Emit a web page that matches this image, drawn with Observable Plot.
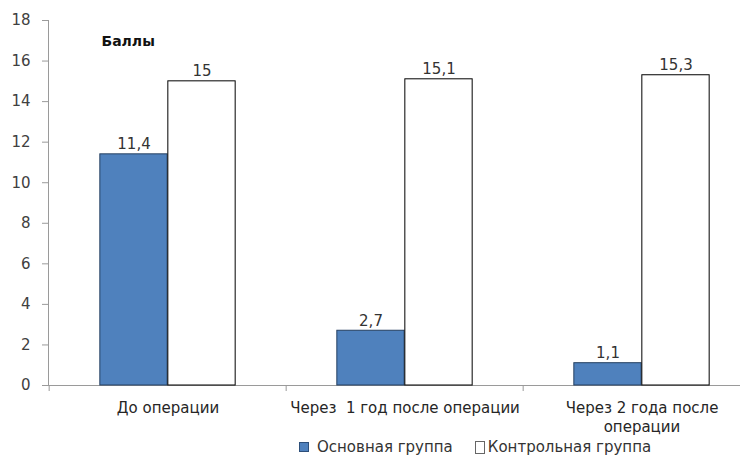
<!DOCTYPE html>
<html>
<head>
<meta charset="utf-8">
<script src="https://cdn.jsdelivr.net/npm/d3@7"></script>
<script src="https://cdn.jsdelivr.net/npm/@observablehq/plot@0.6"></script>
<style>
  body { margin: 0; background: #fff; font-family: "DejaVu Sans", sans-serif; }
  #legend { display: flex; align-items: center; height: 20px; margin-left: 299px; font-size: 15px; color: #333; }
  #legend .sw { display: inline-block; width: 10px; height: 10px; box-sizing: border-box; }
  #legend .main { background: #4f81bd; border: 1px solid #2d4f7a; margin-right: 8px; }
  #legend .control { background: #fff; border: 1px solid #666; height: 13px; margin-left: 22px; margin-right: 3px; }
</style>
</head>
<body>
<div id="chart"></div>
<script>
// Scores before and after surgery, by group
const categories = ["До операции", "Через  1 год после операции", "Через 2 года после\nоперации"];
const groups = ["Основная группа", "Контрольная группа"];
const mainValues = [11.4, 2.7, 1.1];
const controlValues = [15, 15.1, 15.3];
const yTicks = [0, 2, 4, 6, 8, 10, 12, 14, 16, 18];
const yTitle = "Баллы";

const mainRows = categories.map((c, i) => ({category: c, group: groups[0], value: mainValues[i]}));
const controlRows = categories.map((c, i) => ({category: c, group: groups[1], value: controlValues[i]}));

// Layout: each category band holds two adjacent bars centred in it
const xRange = [48, 761];
const band = (xRange[1] - xRange[0]) / categories.length;
const barWidth = 68;
const outer = band / 2 - barWidth;
const fmt = (v) => String(v).replace(".", ",");

const chart = Plot.plot({
  width: 749,
  height: 437,
  marginTop: 20,
  marginBottom: 52,
  marginLeft: 48,
  marginRight: 9,
  style: {fontFamily: "DejaVu Sans, sans-serif", background: "#fff"},
  x: {domain: categories, range: xRange, padding: 0},
  y: {domain: [0, 18], ticks: yTicks},
  marks: [
    Plot.frame({anchor: "left", stroke: "#9a9a9a"}),
    Plot.ruleY([0], {stroke: "#9a9a9a"}),
    Plot.ruleX(categories, {x: (d) => d, y1: 0, y2: 0, insetBottom: -6, dx: -band / 2, stroke: "#9a9a9a"}),
    Plot.ruleX(categories.slice(-1), {x: (d) => d, y1: 0, y2: 0, insetBottom: -6, dx: band / 2, stroke: "#9a9a9a"}),
    Plot.axisY({ticks: yTicks, tickSize: 6, tickPadding: 12, stroke: "#9a9a9a", fill: "#404040", fontSize: 15, label: null}),
    Plot.axisX({tickSize: 0, tickPadding: 14, fill: "#262626", fontSize: 15, lineHeight: 1.25, label: null}),
    Plot.barY(mainRows, {x: "category", y: "value", fill: "#4f81bd", stroke: "#243f60", strokeWidth: 1,
      insetLeft: outer, insetRight: band / 2}),
    Plot.barY(controlRows, {x: "category", y: "value", fill: "#fff", stroke: "#000", strokeWidth: 1,
      insetLeft: band / 2, insetRight: outer}),
    Plot.text(mainRows, {x: "category", y: "value", text: (d) => fmt(d.value), dx: -barWidth / 2, dy: -5,
      lineAnchor: "bottom", fontSize: 15, fill: "#333"}),
    Plot.text(controlRows, {x: "category", y: "value", text: (d) => fmt(d.value), dx: barWidth / 2, dy: -5,
      lineAnchor: "bottom", fontSize: 15, fill: "#333"}),
    Plot.text([yTitle], {frameAnchor: "top-left", textAnchor: "start", dx: 53, dy: 16, fontSize: 14,
      fontWeight: "bold", fill: "#111"})
  ]
});
document.getElementById("chart").append(chart);

const legend = document.createElement("div");
legend.id = "legend";
legend.innerHTML = `<span class="sw main"></span><span>${groups[0]}</span><span class="sw control"></span><span>${groups[1]}</span>`;
document.body.append(legend);
</script>
</body>
</html>
